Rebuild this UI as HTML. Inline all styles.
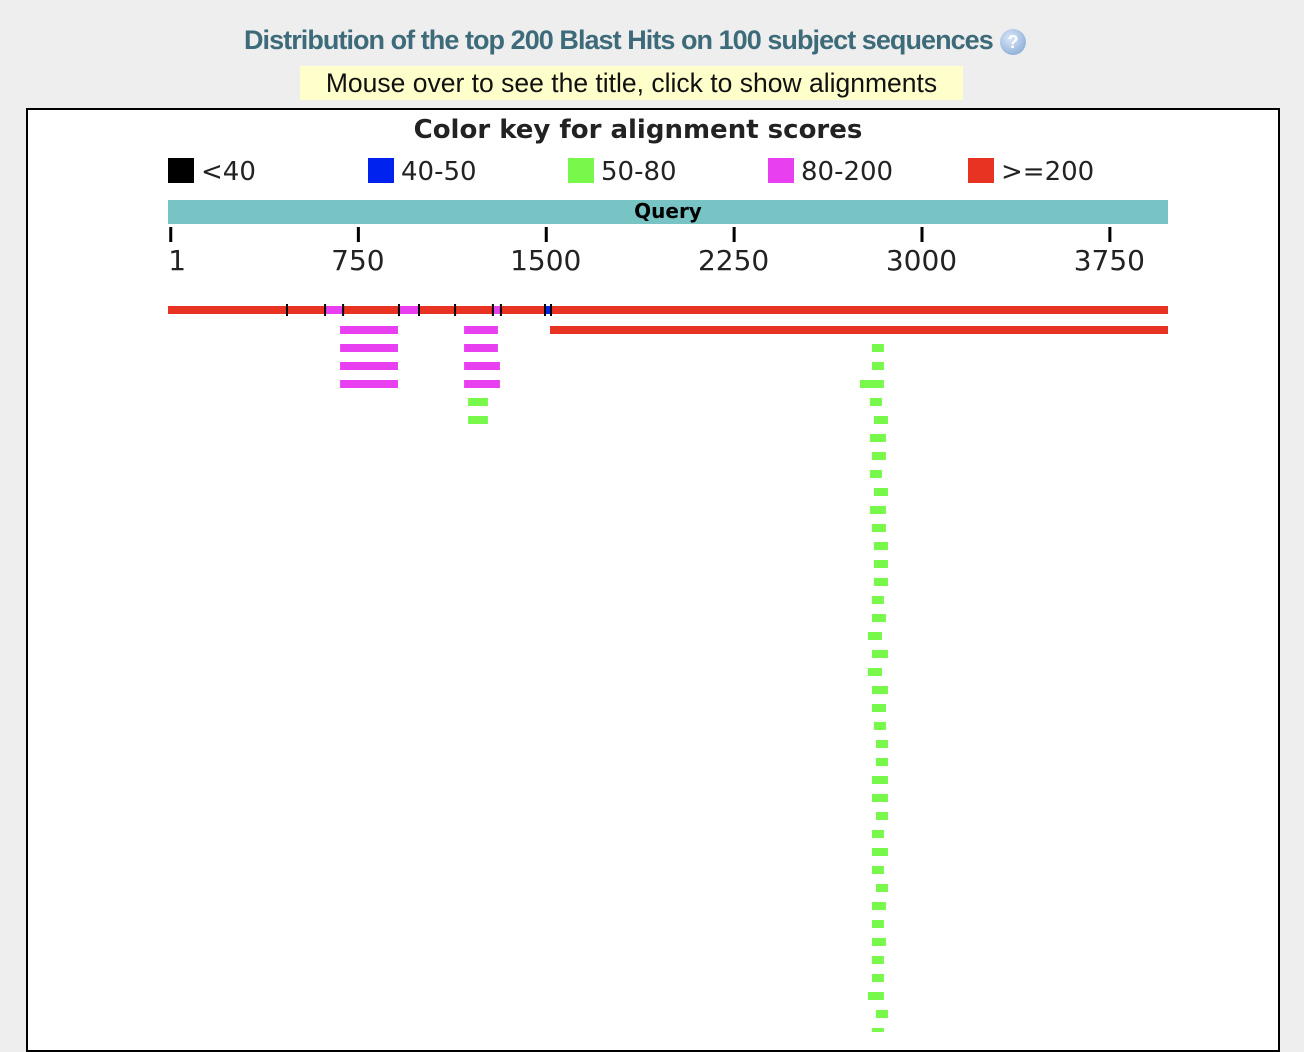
<!DOCTYPE html>
<html><head><meta charset="utf-8">
<style>
html,body{margin:0;padding:0;background:#eeeeee;width:1304px;height:1032px;overflow:hidden;}
#title{position:absolute;left:244px;top:25px;font:bold 27px "Liberation Sans",sans-serif;color:#3d6b7a;letter-spacing:-0.95px;white-space:nowrap;}
#help{position:absolute;left:1000px;top:29px;width:26px;height:26px;border-radius:50%;background:radial-gradient(circle at 40% 35%,#dbe8f8,#7a9fd0);}
#help:after{content:"?";position:absolute;left:0;width:26px;top:3px;text-align:center;color:#fff;font:bold 18px "Liberation Sans",sans-serif;}
#hint{position:absolute;left:300px;top:66px;width:663px;height:34px;background:#ffffcc;font:26.5px "Liberation Sans",sans-serif;color:#111;text-align:center;line-height:34px;white-space:nowrap;}
#panel{position:absolute;left:26px;top:108px;width:1250px;height:940px;background:#fff;border:2px solid #000;}
svg{position:absolute;left:0;top:0;}
</style></head><body>
<div id="title">Distribution of the top 200 Blast Hits on 100 subject sequences</div>
<div id="help"></div>
<div id="hint">Mouse over to see the title, click to show alignments</div>
<div id="panel"></div>
<svg id="chart" width="1304" height="1032">
<text x="638" y="138" text-anchor="middle" font-family="DejaVu Sans, sans-serif" font-weight="bold" font-size="26" fill="#222">Color key for alignment scores</text>
<g id="legend"></g>
<rect x="168" y="200" width="1000" height="24" fill="#78c4c4"/>
<text x="668" y="218" text-anchor="middle" font-family="DejaVu Sans, sans-serif" font-weight="bold" font-size="20" fill="#000">Query</text>
<g id="axis"></g>
<g id="hits"></g>
</svg>
<script>
const queryLen = 3992;
const tickValues = [1, 750, 1500, 2250, 3000, 3750];
const legendLabels = ["<40", "40-50", "50-80", "80-200", ">=200"];
const legendColors = ["#000000", "#0022ee", "#77f84a", "#e83ff0", "#e83222"];
// row 1: segments [start, end, colorIndex]
const row1Segments = [[0,475,4],[475,627,4],[627,699,3],[699,922,4],[922,1002,3],[1002,1146,4],[1146,1297,4],[1297,1329,3],[1329,1505,4],[1505,1529,1],[1529,3992,4]];
// other rows: hits per row as [start, end, colorIndex]
const hitRows = [
 [[1525,3992,4],[687,918,3],[1182,1317,3]],
 [[687,918,3],[1182,1317,3],[2810,2858,2]],
 [[687,918,3],[1182,1325,3],[2810,2858,2]],
 [[687,918,3],[1182,1325,3],[2762,2858,2]],
 [[1198,1277,2],[2802,2850,2]],
 [[1198,1277,2],[2818,2874,2]],
 [[2802,2866,2]],[[2810,2866,2]],[[2802,2850,2]],[[2818,2874,2]],[[2802,2866,2]],
 [[2810,2866,2]],[[2818,2874,2]],[[2818,2874,2]],[[2818,2874,2]],[[2810,2858,2]],
 [[2810,2866,2]],[[2794,2850,2]],[[2810,2874,2]],[[2794,2850,2]],
 [[2810,2874,2]],[[2810,2866,2]],[[2818,2866,2]],[[2826,2874,2]],[[2826,2874,2]],
 [[2810,2874,2]],[[2810,2874,2]],[[2826,2874,2]],[[2810,2858,2]],[[2810,2874,2]],
 [[2810,2858,2]],[[2826,2874,2]],[[2810,2866,2]],[[2810,2858,2]],[[2810,2866,2]],
 [[2810,2858,2]],[[2810,2858,2]],[[2794,2858,2]],[[2826,2874,2]],[[2810,2858,2]]
];
const NS = "http://www.w3.org/2000/svg";
const x0 = 168, plotW = 1000;
function xScale(v){ return x0 + v / queryLen * plotW; }
function rowY(i){ return i === 0 ? 306 : 308 + i * 18; }
function mk(tag, attrs, parent){ const e = document.createElementNS(NS, tag); for (const k in attrs) e.setAttribute(k, attrs[k]); parent.appendChild(e); return e; }

const lg = document.getElementById('legend');
legendLabels.forEach((lab, i) => {
  const sw = mk('rect', {x: 168 + i*200, y: 158, width: 26, height: 25, fill: legendColors[i]}, lg);
  
  
  const t = mk('text', {x: 201 + i*200, y: 180, 'font-family': 'DejaVu Sans, sans-serif', 'font-size': 26, fill: '#222'}, lg);
  t.textContent = lab;
  
  
});

const ax = document.getElementById('axis');
tickValues.forEach(v => {
  const xx = xScale(v) + 1;
  const tk = mk('rect', {x: xx, y: 227, width: 3, height: 15, fill: '#000'}, ax);
  
  
  const t = mk('text', {x: v === 1 ? xx - 1 : xx + 1, y: 270, 'text-anchor': v === 1 ? 'start' : 'middle', 'font-family': 'DejaVu Sans, sans-serif', 'font-size': 28, fill: '#222'}, ax);
  t.textContent = v;
  
  
});

const hg = document.getElementById('hits');
row1Segments.forEach((s, i) => {
  const r = mk('rect', {x: xScale(s[0]), y: rowY(0), width: xScale(s[1]) - xScale(s[0]), height: 8, fill: legendColors[s[2]]}, hg);
  
  
});
row1Segments.forEach((s, i) => {
  if (i === 0) return;
  const b = mk('rect', {x: xScale(s[0]) - 1, y: rowY(0) - 2, width: 2, height: 12, fill: '#000'}, hg);
  
  
});
hitRows.forEach((row, ri) => {
  row.forEach(h => {
    const r = mk('rect', {x: xScale(h[0]), y: rowY(ri + 1), width: xScale(h[1]) - xScale(h[0]), height: 8, fill: legendColors[h[2]]}, hg);
    
    
  });
});
</script>
</body></html>
